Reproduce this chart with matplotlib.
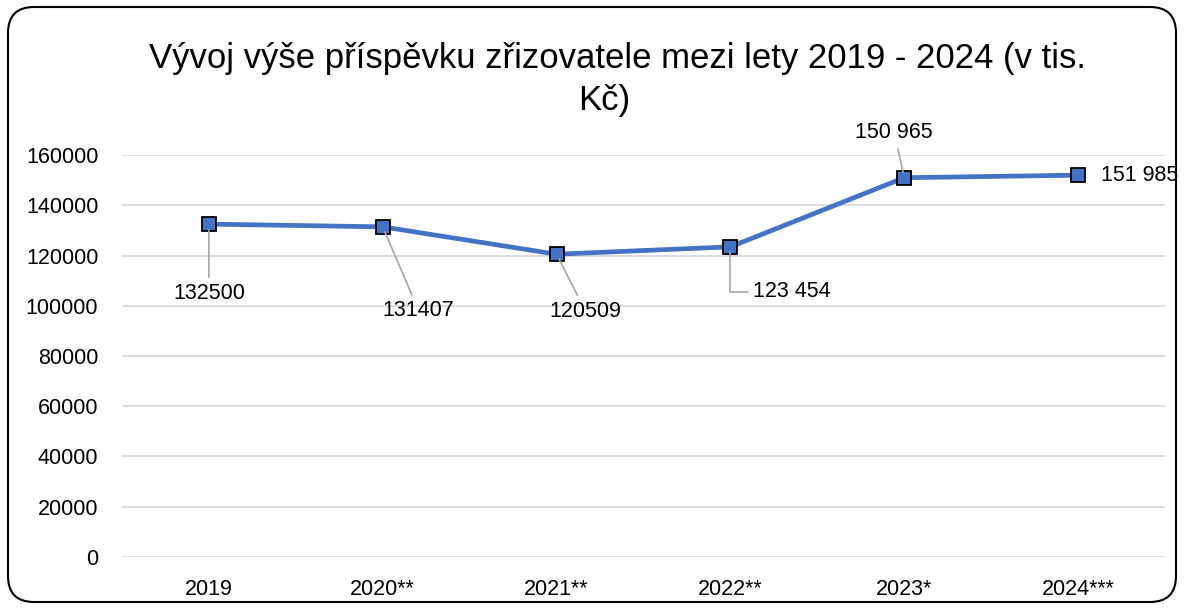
import matplotlib
matplotlib.use("Agg")
import matplotlib.pyplot as plt
from matplotlib.patches import FancyBboxPatch

plt.rcParams["font.family"] = ["Liberation Sans", "DejaVu Sans"]

# data
years = ["2019", "2020**", "2021**", "2022**", "2023*", "2024***"]
values = [132500, 131407, 120509, 123454, 150965, 151985]
labels = ["132500", "131407", "120509", "123 454", "150 965", "151 985"]
y_ticks = [0, 20000, 40000, 60000, 80000, 100000, 120000, 140000, 160000]

BLUE = "#4472C4"
GRID = "#D9D9D9"
LEADER = "#A6A6A6"

fig = plt.figure(figsize=(11.84, 6.12), dpi=100)
ax = fig.add_axes([0.103, 0.0899, 0.881, 0.6568])

x = list(range(len(years)))
ax.plot(x, values, color=BLUE, lw=3.4, marker="s", ms=10,
        mfc=BLUE, mec="black", mew=1.3, zorder=3, solid_capstyle="round")

ax.set_xlim(-0.5, len(years) - 0.5)
ax.set_ylim(0, 160000)
ax.set_yticks(y_ticks)
ax.set_yticklabels([str(t) for t in y_ticks])
ax.set_xticks(x)
ax.set_xticklabels(years)
ax.tick_params(axis="both", length=0, labelsize=15.5, colors="#000000")
ax.tick_params(axis="y", pad=17)
ax.tick_params(axis="x", pad=16)
ax.grid(axis="y", color=GRID, lw=1.3)
ax.set_axisbelow(True)
for s in ax.spines.values():
    s.set_visible(False)

# data labels (offsets in pixels from the marker)
offsets = [(0, -69), (36, -84), (29, -57), (23, -45), (-10, 45), (23, 0)]
aligns = ["center", "center", "center", "left", "center", "left"]
for i, (lab, off, ha) in enumerate(zip(labels, offsets, aligns)):
    if i == 5:
        ax.annotate(lab, (x[i], values[i]), xytext=off, textcoords="offset pixels",
                    ha=ha, va="center", fontsize=15.5)
        continue
    conn = "angle,angleA=0,angleB=90,rad=0" if i == 3 else "arc3"
    ax.annotate(lab, (x[i], values[i]), xytext=off, textcoords="offset pixels",
                ha=ha, va="center", fontsize=15.5,
                arrowprops=dict(arrowstyle="-", color=LEADER, lw=1.2,
                                shrinkA=2, shrinkB=4, connectionstyle=conn))

fig.text(0.5215, 0.905, "Vývoj výše příspěvku zřizovatele mezi lety 2019 - 2024 (v tis.",
         ha="center", va="center", fontsize=25)
fig.text(0.51, 0.836, "Kč)", ha="center", va="center", fontsize=25)

border = FancyBboxPatch((8 / 1184, 10 / 612), 1168 / 1184, 595 / 612,
                        boxstyle="round,pad=0,rounding_size=0.022",
                        transform=fig.transFigure, fill=False, ec="black", lw=1.5,
                        mutation_aspect=1184 / 612)
fig.patches.append(border)

fig.savefig("out.png", dpi=100)
